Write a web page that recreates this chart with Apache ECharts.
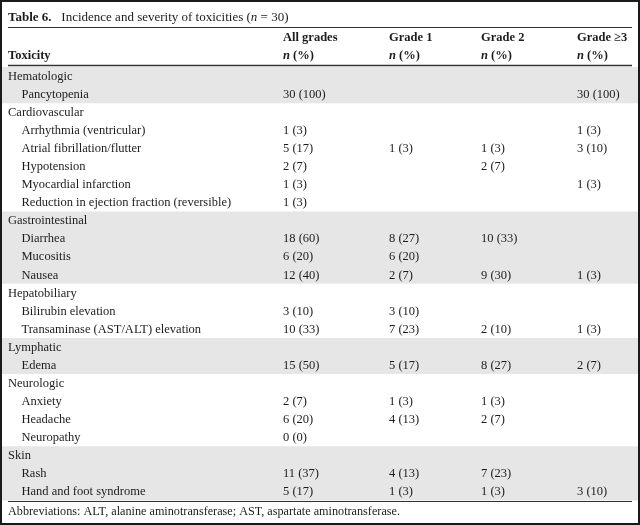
<!DOCTYPE html>
<html>
<head>
<meta charset="utf-8">
<script src="https://cdn.jsdelivr.net/npm/echarts@6/dist/echarts.min.js"></script>
<style>html,body{margin:0;padding:0;background:#fff}#c{width:640px;height:525px}</style>
</head>
<body>
<div id="c"></div>
<script>
// ---- data ----
const groupNames = ['Hematologic','Cardiovascular','Gastrointestinal','Hepatobiliary','Lymphatic','Neurologic','Skin'];
const shadedGroups = [0, 2, 4, 6];
const toxicities = ['Pancytopenia','Arrhythmia (ventricular)','Atrial fibrillation/flutter','Hypotension','Myocardial infarction','Reduction in ejection fraction (reversible)','Diarrhea','Mucositis','Nausea','Bilirubin elevation','Transaminase (AST/ALT) elevation','Edema','Anxiety','Headache','Neuropathy','Rash','Hand and foot syndrome'];
const toxicityGroup = [0,1,1,1,1,1,2,2,2,3,3,4,5,5,5,6,6];
const allGrades = ['30 (100)','1 (3)','5 (17)','2 (7)','1 (3)','1 (3)','18 (60)','6 (20)','12 (40)','3 (10)','10 (33)','15 (50)','2 (7)','6 (20)','0 (0)','11 (37)','5 (17)'];
const grade1 = ['','','1 (3)','','','','8 (27)','6 (20)','2 (7)','3 (10)','7 (23)','5 (17)','1 (3)','4 (13)','','4 (13)','1 (3)'];
const grade2 = ['','','1 (3)','2 (7)','','','10 (33)','','9 (30)','','2 (10)','8 (27)','1 (3)','2 (7)','','7 (23)','1 (3)'];
const grade3 = ['30 (100)','1 (3)','3 (10)','','1 (3)','','','','1 (3)','','1 (3)','2 (7)','','','','','3 (10)'];
const columnHeads = ['All grades','Grade 1','Grade 2','Grade \u22653'];
const titleText = 'Incidence and severity of toxicities';
const footnote = 'Abbreviations: ALT, alanine aminotransferase; AST, aspartate aminotransferase.';

// ---- build rows ----
const rowLabels = [];
const cells = [];     // [col, row, text, isGroup]
const bands = [];     // [startRow, endRow]
const valueCols = [allGrades, grade1, grade2, grade3];
groupNames.forEach((g, gi) => {
  const start = rowLabels.length;
  rowLabels.push(g);
  cells.push([0, start, g, 1]);
  toxicities.forEach((t, ti) => {
    if (toxicityGroup[ti] !== gi) return;
    const r = rowLabels.length;
    rowLabels.push(t);
    cells.push([0, r, t, 0]);
    valueCols.forEach((col, ci) => { if (col[ti]) cells.push([ci + 1, r, col[ti], 0]); });
  });
  if (shadedGroups.includes(gi)) bands.push([start, rowLabels.length - 1]);
});

// ---- layout ----
const FONT = '"Liberation Serif", "Times New Roman", serif';
const FS = 12.5;
const TXT = '#1e1b1c';
const colX = [8, 283, 389, 481, 577];
const indent = 13.5;

const chart = echarts.init(document.getElementById('c'), null, {renderer: 'canvas'});
const tfs = 13;
const bold = {fontWeight: 'bold', fontFamily: FONT, fontSize: FS, color: TXT};
const boldItal = {fontWeight: 'bold', fontStyle: 'italic', fontFamily: FONT, fontSize: FS, color: TXT};
const tBold = {fontWeight: 'bold', fontFamily: FONT, fontSize: tfs, color: TXT};
const tItal = {fontStyle: 'italic', fontFamily: FONT, fontSize: tfs, color: TXT};

const graphics = [
  {type: 'rect', shape: {x: 1, y: 1, width: 638, height: 523}, style: {fill: 'none', stroke: '#1a1a1a', lineWidth: 2}, z: 10},
  {type: 'text', x: 8, y: 17.5, style: {text: '{b|Table 6.}   ' + titleText + ' ({i|n} = 30)', rich: {b: tBold, i: tItal}, fontFamily: FONT, fontSize: tfs, fill: TXT, verticalAlign: 'middle'}},
  {type: 'line', shape: {x1: 8, y1: 27.5, x2: 632, y2: 27.5}, style: {stroke: '#333', lineWidth: 1}},
  {type: 'line', shape: {x1: 8, y1: 65.5, x2: 632, y2: 65.5}, style: {stroke: '#333', lineWidth: 1.6}},
  {type: 'line', shape: {x1: 8, y1: 501.5, x2: 632, y2: 501.5}, style: {stroke: '#333', lineWidth: 1}},
  {type: 'text', x: 8, y: 55.5, style: {text: 'Toxicity', font: 'bold ' + FS + 'px ' + FONT, fill: TXT, verticalAlign: 'middle'}},
  {type: 'text', x: 8, y: 512, style: {text: footnote, font: '12.2px ' + FONT, fill: TXT, verticalAlign: 'middle'}}
];
columnHeads.forEach((h, i) => {
  graphics.push({type: 'text', x: colX[i + 1], y: 37.5, style: {text: h, font: 'bold ' + FS + 'px ' + FONT, fill: TXT, verticalAlign: 'middle'}});
  graphics.push({type: 'text', x: colX[i + 1], y: 55.5, style: {text: '{i|n} {b|(%)}', rich: {b: bold, i: boldItal}, fontFamily: FONT, fontSize: FS, fill: TXT, verticalAlign: 'middle'}});
});

chart.setOption({
  animation: false,
  grid: {left: 0, right: 0, top: 67, bottom: 24.5},
  xAxis: {type: 'value', min: 0, max: 640, show: false},
  yAxis: {type: 'category', data: rowLabels, inverse: true, show: false},
  graphic: graphics,
  series: [
    {
      type: 'custom', z: 1,
      data: bands,
      renderItem: (params, api) => {
        const p0 = api.coord([0, api.value(0)]);
        const p1 = api.coord([0, api.value(1)]);
        const h = api.size([0, 1])[1];
        const xa = api.coord([2, 0])[0], xb = api.coord([638, 0])[0];
        return {type: 'rect', shape: {x: xa, y: p0[1] - h / 2, width: xb - xa, height: p1[1] - p0[1] + h}, style: {fill: '#e6e6e6'}};
      }
    },
    {
      type: 'custom', z: 2,
      data: cells,
      renderItem: (params, api) => {
        const col = api.value(0), row = api.value(1);
        const isGroup = cells[params.dataIndex][3];
        const text = cells[params.dataIndex][2];
        const x = colX[col] + (col === 0 && !isGroup ? indent : 0);
        const p = api.coord([x, row]);
        return {type: 'text', x: p[0], y: p[1] + 0.5, style: {text: text, font: FS + 'px ' + FONT, fill: TXT, verticalAlign: 'middle', align: 'left'}};
      }
    }
  ]
});
</script>
</body>
</html>
